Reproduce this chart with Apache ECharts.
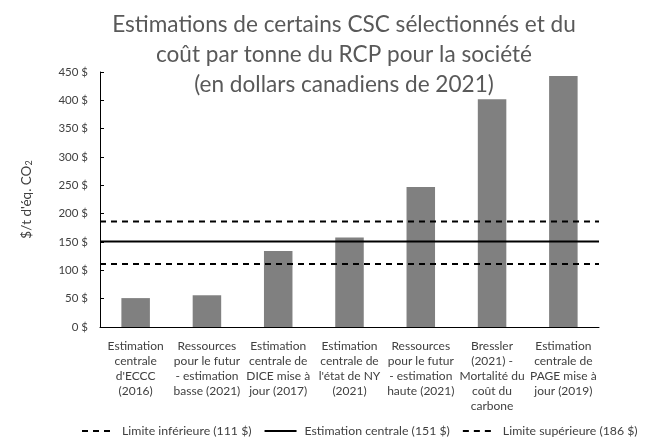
<!DOCTYPE html>
<html>
<head>
<meta charset="utf-8">
<script src="https://cdn.jsdelivr.net/npm/echarts@6/dist/echarts.min.js"></script>
<style>html,body{margin:0;padding:0;background:#fff}#c{width:651px;height:443px}</style>
</head>
<body>
<div id="c"></div>
<script>
// Categories (estimate sources) and their social cost of carbon values
const categories = [
  "Estimation\ncentrale\nd'ECCC\n(2016)",
  "Ressources\npour le futur\n- estimation\nbasse (2021)",
  "Estimation\ncentrale de\nDICE mise à\njour (2017)",
  "Estimation\ncentrale de\nl'état de NY\n(2021)",
  "Ressources\npour le futur\n- estimation\nhaute (2021)",
  "Bressler\n(2021) -\nMortalité du\ncoût du\ncarbone",
  "Estimation\ncentrale de\nPAGE mise à\njour (2019)"
];
const sccValues = [51, 56, 134, 158, 247, 402, 443];

// Reference lines for the carbon pollution pricing benchmark
const refNames = ["Limite inférieure (111 $)", "Estimation centrale (151 $)", "Limite supérieure (186 $)"];
const refValues = [111, 151, 186];
const refDash = ["dashed", "solid", "dashed"];

const yTicks = { min: 0, max: 450, interval: 50 };

const FONT = "Lato";
const chart = echarts.init(document.getElementById('c'), null, { renderer: 'canvas' });

const refSeries = refNames.map((n, i) => ({
  name: n,
  type: 'line',
  xAxisIndex: 1,
  symbol: 'none',
  silent: true,
  z: 5,
  color: '#000',
  lineStyle: { color: '#000', width: 2, type: refDash[i] === 'dashed' ? [6, 5] : 'solid' },
  data: [[0, refValues[i]], [1, refValues[i]]]
}));

chart.setOption({
  animation: false,
  textStyle: { fontFamily: FONT },
  title: {
    text: "Estimations de certains CSC sélectionnés et du\ncoût par tonne du RCP pour la société\n(en dollars canadiens de 2021)",
    left: 339, textAlign: 'center', top: 5,
    textStyle: { fontFamily: FONT, fontSize: 22.6, fontWeight: 'normal', color: '#595959', lineHeight: 30 }
  },
  legend: {
    bottom: 1, left: 76, right: 0,
    itemWidth: 32, itemHeight: 10, itemGap: 12,
    data: refNames,
    itemStyle: { opacity: 0 },
    textStyle: { fontFamily: FONT, fontSize: 12.3, color: '#404040', padding: [0, 0, 0, 3] }
  },
  grid: { left: 100, right: 52, top: 72, bottom: 116 },
  xAxis: [{
    type: 'category',
    data: categories,
    axisLine: { lineStyle: { color: '#000', width: 1 } },
    axisTick: { inside: true, length: 4, lineStyle: { color: '#000' } },
    axisLabel: { interval: 0, margin: 12, fontFamily: FONT, fontSize: 12, lineHeight: 15, color: '#404040' }
  }, {
    type: 'value', min: 0, max: 1, show: false
  }],
  yAxis: {
    type: 'value',
    min: yTicks.min, max: yTicks.max, interval: yTicks.interval,
    name: "$/t d'éq. CO{sub|2}",
    nameLocation: 'middle', nameGap: 66, nameRotate: 90,
    nameTextStyle: {
      fontFamily: FONT, fontSize: 13.5, color: '#404040',
      rich: { sub: { fontFamily: FONT, fontSize: 9, color: '#404040', verticalAlign: 'bottom', padding: [6, 0, 0, 0] } }
    },
    axisLine: { show: true, lineStyle: { color: '#000', width: 1 } },
    axisTick: { show: true, inside: true, length: 4, lineStyle: { color: '#000' } },
    splitLine: { show: false },
    axisLabel: { formatter: v => v + ' $', margin: 12, fontFamily: FONT, fontSize: 11.5, color: '#404040' }
  },
  series: [{
    name: 'CSC',
    type: 'bar',
    data: sccValues,
    barWidth: '40%',
    itemStyle: { color: '#808080' },
    z: 2
  }].concat(refSeries)
});
</script>
</body>
</html>
